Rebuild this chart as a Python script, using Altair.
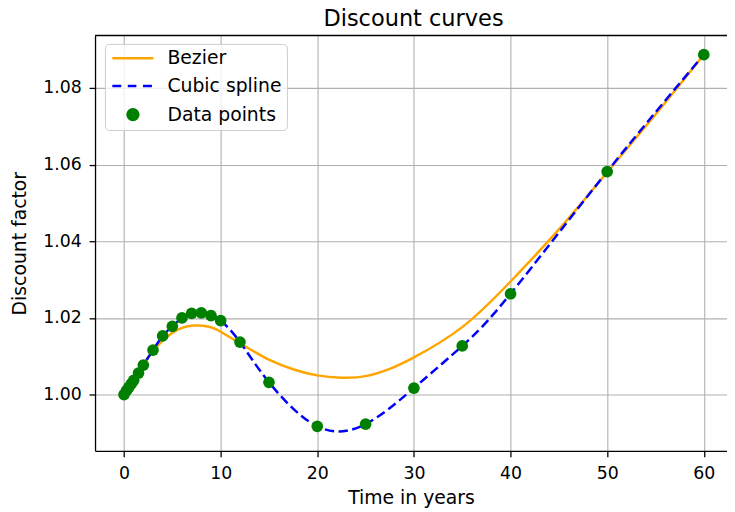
import altair as alt
import pandas as pd

# ---- data ----
pt_x = [0, 0.25, 0.5, 0.75, 1, 1.5, 2, 3, 4, 5, 6, 7, 8, 9, 10, 12, 15, 20, 25, 30, 35, 40, 50, 60]
pt_y = [1.0000, 1.0010, 1.0019, 1.0028, 1.0037, 1.0056, 1.0077, 1.0116, 1.0153, 1.0178,
        1.0200, 1.0212, 1.0213, 1.0206, 1.0193, 1.0137, 1.0032, 0.9917, 0.9923, 1.0017,
        1.0127, 1.0263, 1.0582, 1.0887]

bz_x = [0, 1, 2, 3, 4, 5, 6, 7.2, 8.8, 10, 12, 15, 17.5, 20, 22.5, 25, 27.5, 30, 35, 40, 45, 50, 55, 60]
bz_y = [1.0000, 1.0040, 1.0080, 1.0114, 1.0141, 1.0161, 1.0174, 1.0180, 1.0177, 1.0164,
        1.0134, 1.0091, 1.0066, 1.0050, 1.0044, 1.0048, 1.0067, 1.0097, 1.0176, 1.0295,
        1.0431, 1.0580, 1.0731, 1.0887]

series = ["Bezier", "Cubic spline", "Data points"]
colors = ["#ffa500", "#0000ff", "#008000"]
x_ticks = [0, 10, 20, 30, 40, 50, 60]
y_ticks = [1.00, 1.02, 1.04, 1.06, 1.08]

bez = pd.DataFrame({"t": bz_x, "v": bz_y})
pts = pd.DataFrame({"t": pt_x, "v": pt_y})
leg_df = pd.DataFrame({"series": series})

FONT = "DejaVu Sans"

xs = alt.Scale(domain=[-3, 62.4], nice=False, zero=False)
ys = alt.Scale(domain=[0.9853, 1.0937], nice=False, zero=False)
cs = alt.Scale(domain=series, range=colors)


# legend symbol paths (unit = 5 px for symbolSize 100)
def ring(c, r):
    return f"M{c + r},0A{r},{r},0,1,1,{c - r},0A{r},{r},0,1,1,{c + r},0"


P_SOLID = "M-1.4,0H6.92"
P_DASH = "M-1.4,0H0.4M1.72,0H3.46M4.8,0H6.6"
P_DOT = ring(2.76, 1.1) + ring(2.76, 0.7) + ring(2.76, 0.3)
ss = alt.Scale(domain=series, range=[P_SOLID, P_DASH, P_DOT])

leg = alt.Legend(
    title=None, orient="none", legendX=10, legendY=8.5,
    labelFont=FONT, labelFontSize=19, labelColor="black",
    symbolSize=100, symbolStrokeWidth=2.5, labelOffset=39.2,
    rowPadding=8, padding=5,
    fillColor="rgba(255,255,255,0.8)", strokeColor="#cccccc",
    cornerRadius=4,
)

xenc = alt.X("t:Q", scale=xs, title="Time in years",
             axis=alt.Axis(values=x_ticks, format="d"))
yenc = alt.Y("v:Q", scale=ys, title="Discount factor",
             axis=alt.Axis(values=y_ticks, format=".2f"))

l_bez = alt.Chart(bez).mark_line(color=colors[0], strokeWidth=2.5,
                                 interpolate="natural").encode(x=xenc, y=yenc)
l_spl = alt.Chart(pts).mark_line(color=colors[1], strokeWidth=2.5, interpolate="natural",
                                 strokeDash=[9.5, 4.5]).encode(x=xenc, y=yenc)
l_pts = alt.Chart(pts).mark_circle(color=colors[2], size=140, opacity=1).encode(
    x=xenc, y=yenc)
top = alt.Chart(pd.DataFrame({"a": [0]})).mark_rule(
    color="black", strokeWidth=1.3).encode(y=alt.value(0))
l_leg = alt.Chart(leg_df).transform_filter("false").mark_point(
    filled=False, size=100, strokeWidth=2.5, opacity=1).encode(
    color=alt.Color("series:N", scale=cs, legend=leg),
    shape=alt.Shape("series:N", scale=ss, legend=leg),
)

chart = alt.layer(l_bez, l_spl, l_pts, top, l_leg).properties(
    width=639, height=420,
    title=alt.TitleParams("Discount curves", font=FONT, fontSize=22.7,
                          fontWeight="normal", color="black",
                          anchor="middle", frame="group", dx=2.5, offset=4),
    autosize=alt.AutoSizeParams(type="none"),
    padding={"left": 88, "top": 25, "right": 0, "bottom": 59},
).configure(font=FONT).configure_view(stroke=None).configure_axis(
    labelFont=FONT, labelFontSize=17.5, labelColor="black",
    titleFont=FONT, titleFontSize=19, titleColor="black", titleFontWeight="normal",
    domainColor="black", domainWidth=1.3,
    tickColor="black", tickWidth=1.3, tickSize=6, labelPadding=8,
    grid=True, gridColor="#b0b0b0", gridWidth=1.1,
).configure_axisX(titlePadding=7).configure_axisY(titlePadding=13)

chart.save("out.html", embed_options={"renderer": "svg", "actions": False})
